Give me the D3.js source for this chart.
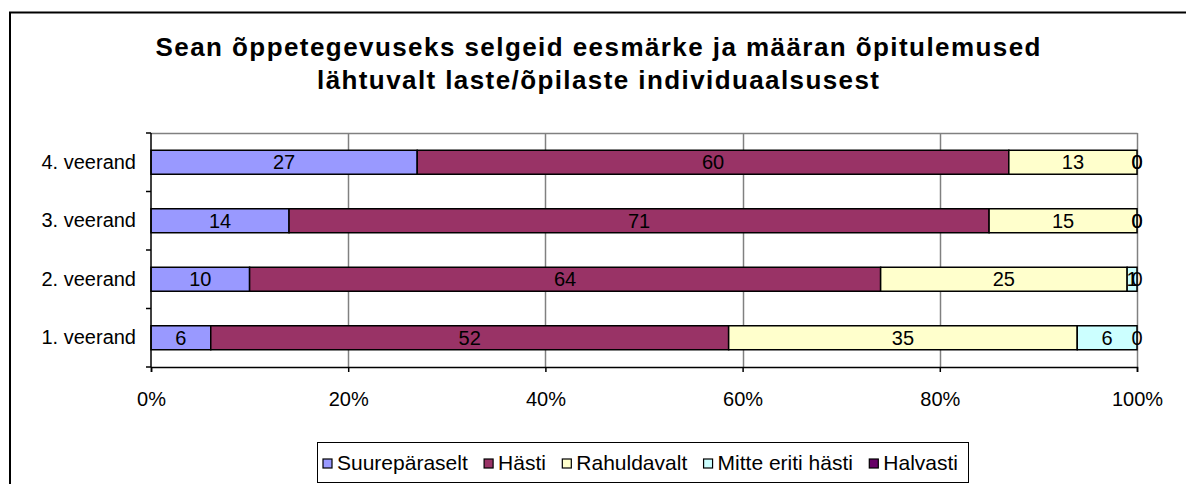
<!DOCTYPE html>
<html>
<head>
<meta charset="utf-8">
<script src="https://cdn.jsdelivr.net/npm/d3@7"></script>
<style>
  body { margin: 0; background: #fff; }
  text { font-family: Arial, "Liberation Sans", sans-serif; fill: #000; }
</style>
</head>
<body>
<div class="chart"></div>
<script>
var categories = ['4. veerand', '3. veerand', '2. veerand', '1. veerand']
var seriesNames = ['Suurepäraselt', 'Hästi', 'Rahuldavalt', 'Mitte eriti hästi', 'Halvasti']
var suureparaselt = [27, 14, 10, 6]
var hasti = [60, 71, 64, 52]
var rahuldavalt = [13, 15, 25, 35]
var mitteEritiHasti = [0, 0, 1, 6]
var halvasti = [0, 0, 0, 0]
var seriesColors = ['#9999FF', '#993366', '#FFFFCC', '#CCFFFF', '#660066']
var xTickValues = [0, 0.2, 0.4, 0.6, 0.8, 1]
var titleLines = ['Sean õppetegevuseks selgeid eesmärke ja määran õpitulemused',
    'lähtuvalt laste/õpilaste individuaalsusest']

var W = 1186, H = 484
var plot = {left: 151, right: 1137, top: 133, bottom: 367}

var svg = d3.select('.chart')
    .append('svg')
    .attr('width', W)
    .attr('height', H)

// build rows for the stack
var allSeries = [suureparaselt, hasti, rahuldavalt, mitteEritiHasti, halvasti]
var rows = categories.map(function (c, i) {
    var r = {cat: c}
    seriesNames.forEach(function (s, j) { r[s] = allSeries[j][i] })
    return r
})
var stacked = d3.stack().keys(seriesNames).offset(d3.stackOffsetExpand)(rows)

var xScale = d3.scaleLinear().domain([0, 1]).range([plot.left, plot.right])
var yScale = d3.scaleBand()
    .domain(categories)
    .range([plot.top, plot.bottom])
    .paddingInner(0.59)
    .paddingOuter(0.295)
var color = d3.scaleOrdinal().domain(seriesNames).range(seriesColors)

// outer chart border
svg.append('rect')
    .attr('x', 10).attr('y', 12.5)
    .attr('width', W + 20).attr('height', H + 20)
    .attr('fill', '#fff')
    .attr('stroke', '#000')
    .attr('stroke-width', 2)

// title
svg.selectAll('.title')
    .data(titleLines)
    .enter()
    .append('text')
    .attr('class', 'title')
    .attr('x', 598)
    .attr('y', function (d, i) { return 56 + i * 33 })
    .attr('text-anchor', 'middle')
    .attr('font-size', 26)
    .attr('font-weight', 'bold')
    .attr('textLength', function (d, i) { return i == 0 ? 885 : 562 })
    .attr('lengthAdjust', 'spacing')
    .text(function (d) { return d })

// gridlines + plot border
svg.append('g')
    .selectAll('line')
    .data(xTickValues.slice(1))
    .enter()
    .append('line')
    .attr('x1', function (d) { return Math.round(xScale(d)) + 0.5 })
    .attr('x2', function (d) { return Math.round(xScale(d)) + 0.5 })
    .attr('y1', plot.top)
    .attr('y2', plot.bottom)
    .attr('stroke', '#808080')
    .attr('stroke-width', 1.5)
svg.append('line')
    .attr('x1', plot.left).attr('x2', plot.right + 0.5)
    .attr('y1', plot.top + 0.5).attr('y2', plot.top + 0.5)
    .attr('stroke', '#808080').attr('stroke-width', 1.5)

// bars
var groups = svg.append('g')
    .selectAll('g')
    .data(stacked)
    .enter()
    .append('g')
    .attr('fill', function (d) { return color(d.key) })

groups.selectAll('rect')
    .data(function (d) { return d })
    .enter()
    .append('rect')
    .attr('x', function (d) { return xScale(d[0]) })
    .attr('y', function (d) { return yScale(d.data.cat) })
    .attr('width', function (d) { return xScale(d[1]) - xScale(d[0]) })
    .attr('height', yScale.bandwidth())
    .attr('stroke', '#000')
    .attr('stroke-width', 1.5)

// data labels
stacked.forEach(function (layer) {
    svg.append('g')
        .selectAll('text')
        .data(layer)
        .enter()
        .append('text')
        .attr('x', function (d) { return xScale((d[0] + d[1]) / 2) })
        .attr('y', function (d) { return yScale(d.data.cat) + yScale.bandwidth() / 2 })
        .attr('dy', '0.36em')
        .attr('text-anchor', 'middle')
        .attr('font-size', 20)
        .text(function (d) { return d.data[layer.key] })
})

// left axis: labels at band centres, ticks at band edges
var yAxis = d3.axisLeft(yScale).tickSize(0).tickPadding(15)
var gy = svg.append('g')
    .attr('transform', 'translate(' + plot.left + ',0)')
    .call(yAxis)
gy.select('.domain').remove()
gy.selectAll('text').attr('font-size', 20).attr('font-family', null)

var edges = d3.range(categories.length + 1).map(function (i) {
    return plot.top + i * yScale.step()
})
svg.append('g')
    .selectAll('line')
    .data(edges)
    .enter()
    .append('line')
    .attr('x1', plot.left - 5).attr('x2', plot.left)
    .attr('y1', function (d) { return d }).attr('y2', function (d) { return d })
    .attr('stroke', '#000').attr('stroke-width', 1.5)
svg.append('line')
    .attr('x1', plot.left).attr('x2', plot.left)
    .attr('y1', plot.top).attr('y2', plot.bottom)
    .attr('stroke', '#000').attr('stroke-width', 1.5)

// bottom axis
var xAxis = d3.axisBottom(xScale)
    .tickValues(xTickValues)
    .tickFormat(d3.format('.0%'))
    .tickSize(5)
    .tickPadding(20)
var gx = svg.append('g')
    .attr('transform', 'translate(0,' + plot.bottom + ')')
    .call(xAxis)
gx.select('.domain').attr('stroke-width', 1.5)
gx.selectAll('.tick line').attr('stroke-width', 1.5)
gx.selectAll('text').attr('font-size', 20).attr('font-family', null)

// legend
var legBox = {x: 317, y: 442, w: 651, h: 40}
svg.append('rect')
    .attr('x', legBox.x + 0.5).attr('y', legBox.y + 0.5)
    .attr('width', legBox.w).attr('height', legBox.h)
    .attr('fill', '#fff').attr('stroke', '#000').attr('stroke-width', 1)

var leg = svg.append('g')
var items = leg.selectAll('g')
    .data(seriesNames)
    .enter()
    .append('g')
items.append('rect')
    .attr('width', 9).attr('height', 9)
    .attr('y', -11)
    .attr('fill', function (d) { return color(d) })
    .attr('stroke', '#000').attr('stroke-width', 1.2)
items.append('text')
    .attr('x', 14)
    .attr('font-size', 21)
    .text(function (d) { return d })

// spread items from x 323 to 958 like the original
var widths = []
items.each(function () { widths.push(d3.select(this).select('text').node().getComputedTextLength() + 14) })
var start = 323, end = 958
var gap = (end - start - d3.sum(widths)) / (widths.length - 1)
var cx = start
items.attr('transform', function (d, i) {
    var x = cx
    cx += widths[i] + gap
    return 'translate(' + x + ',' + (legBox.y + 28) + ')'
})
</script>
</body>
</html>
